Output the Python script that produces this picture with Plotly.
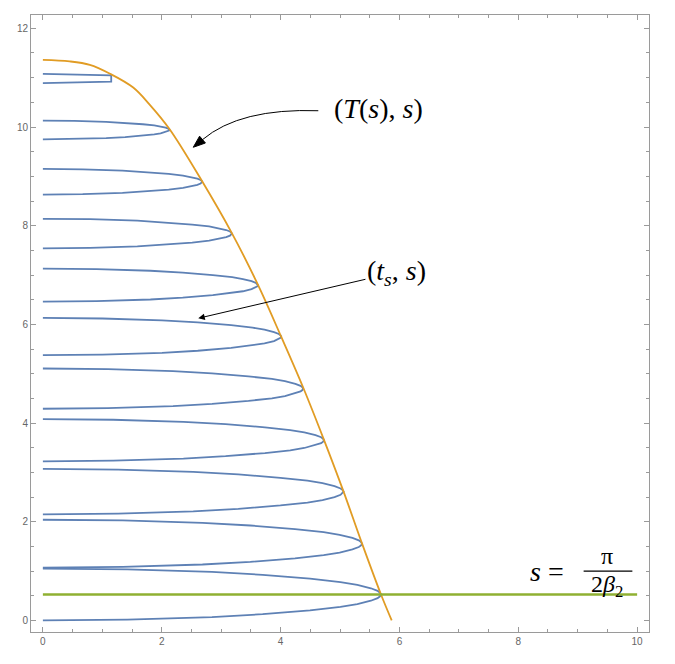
import plotly.graph_objects as go

# ---------------- data ----------------
# envelope curve (T(s), s)
env_t = [0.0, 0.45, 0.79, 1.13, 1.52, 1.8, 2.13, 2.68, 3.18, 3.62, 4.01, 4.38, 4.73, 5.06, 5.37, 5.69, 5.87]
env_s = [11.36, 11.33, 11.26, 11.08, 10.8, 10.45, 9.96, 8.9, 7.85, 6.8, 5.75, 4.72, 3.66, 2.61, 1.56, 0.525, 0.0]

# lobes of (t_s, s): s where each lobe leaves / returns to t=0, and tip t
lobe_low = [0.0, 1.07, 2.15, 3.225, 4.29, 5.375, 6.46, 7.54, 8.63, 9.75]
lobe_high = [1.05, 2.04, 3.07, 4.08, 5.105, 6.13, 7.13, 8.14, 9.15, 10.13]
lobe_tip_t = [5.69, 5.37, 5.06, 4.73, 4.38, 4.01, 3.62, 3.18, 2.68, 2.13]

# normalised lobe profile (fraction of tip t, fraction of half height)
prof_f = [0.0, 0.25, 0.5, 0.65, 0.79, 0.88, 0.93, 0.97, 0.99, 0.997, 1.0]
prof_g = [0.0, 0.03, 0.13, 0.24, 0.39, 0.52, 0.63, 0.76, 0.86, 0.93, 1.0]

# last (truncated) lobe
top_t = [0.0, 1.15, 1.15, 0.0]
top_s = [11.075, 11.045, 10.92, 10.89]

# horizontal level s = pi/(2 beta_2)
level_s = 0.525
level_t = [0.0, 10.0]

x_ticks = [0, 2, 4, 6, 8, 10]
y_ticks = [0, 2, 4, 6, 8, 10, 12]

# ---------------- build blue curve ----------------
bx, by = [], []
for lo, hi, tt in zip(lobe_low, lobe_high, lobe_tip_t):
    mid = (lo + hi) / 2
    for f, g in zip(prof_f, prof_g):
        bx.append(tt * f)
        by.append(lo + (mid - lo) * g)
    for f, g in zip(reversed(prof_f[:-1]), reversed(prof_g[:-1])):
        bx.append(tt * f)
        by.append(hi - (hi - mid) * g)
    bx.append(None)
    by.append(None)
bx += top_t
by += top_s

BLUE = "#5E81B5"
ORANGE = "#E19C24"
GREEN = "#8FB032"

fig = go.Figure()
fig.add_trace(go.Scatter(x=bx, y=by, mode="lines", line=dict(color=BLUE, width=1.8),
                         connectgaps=False, hoverinfo="skip"))
fig.add_trace(go.Scatter(x=env_t, y=env_s, mode="lines",
                         line=dict(color=ORANGE, width=1.8, shape="spline", smoothing=1.0),
                         hoverinfo="skip"))
fig.add_trace(go.Scatter(x=level_t, y=[level_s, level_s], mode="lines", line=dict(color=GREEN, width=2.6),
                         hoverinfo="skip"))

axis_common = dict(
    showgrid=False, zeroline=False, showline=True, linecolor="#9a9a9a", linewidth=1,
    mirror="ticks", ticks="inside", ticklen=5, tickwidth=1, tickcolor="#9a9a9a",
    tickfont=dict(family="Liberation Sans, Arial, sans-serif", size=10, color="#666666"),
    minor=dict(ticks="inside", ticklen=3, dtick=0.5, tickcolor="#9a9a9a", showgrid=False),
)
fig.update_xaxes(range=[-0.2, 10.2], tickvals=x_ticks, **axis_common)
fig.update_yaxes(range=[-0.235, 12.27], tickvals=y_ticks, **axis_common)

SERIF = "Liberation Serif, DejaVu Serif, serif"
tfont = dict(family=SERIF, size=28, color="black")

# curved arrow for (T(s), s): body + filled head
fig.add_shape(type="path", path="M 4.635,10.33 Q 3.317,10.385 2.686,9.744",
              line=dict(color="black", width=1), xref="x", yref="y")
fig.add_shape(type="path", path="M 2.531,9.589 L 2.735,9.676 L 2.637,9.814 Z",
              line=dict(color="black", width=1), fillcolor="black", xref="x", yref="y")

annotations = [
    dict(x=5.64, y=10.37, text="(<i>T</i>(<i>s</i>), <i>s</i>)", showarrow=False, font=tfont,
         xref="x", yref="y"),
    dict(x=2.615, y=6.123, ax=5.95, ay=7.06, axref="x", ayref="y",
         text="(<i>t<sub>s</sub></i>, <i>s</i>)", font=tfont, showarrow=True,
         arrowhead=2, arrowsize=1.3, arrowwidth=1, arrowcolor="black", xref="x", yref="y"),
    dict(x=8.48, y=1.0, text="<i>s</i> =", showarrow=False, font=tfont, xref="x", yref="y"),
    dict(x=9.5, y=1.3, text="π", showarrow=False, font=dict(family=SERIF, size=24, color="black"),
         xref="x", yref="y"),
    dict(x=9.5, y=0.69, text="2<i>β</i><sub>2</sub>", showarrow=False,
         font=dict(family=SERIF, size=24, color="black"), xref="x", yref="y"),
]
fig.add_shape(type="line", x0=9.1, x1=9.92, y0=1.0, y1=1.0, line=dict(color="black", width=1.2),
              xref="x", yref="y")

fig.update_layout(
    width=667, height=656,
    margin=dict(l=23, r=26, t=7, b=32),
    paper_bgcolor="white", plot_bgcolor="white",
    showlegend=False,
    annotations=annotations,
)

fig.write_html("out.html")
